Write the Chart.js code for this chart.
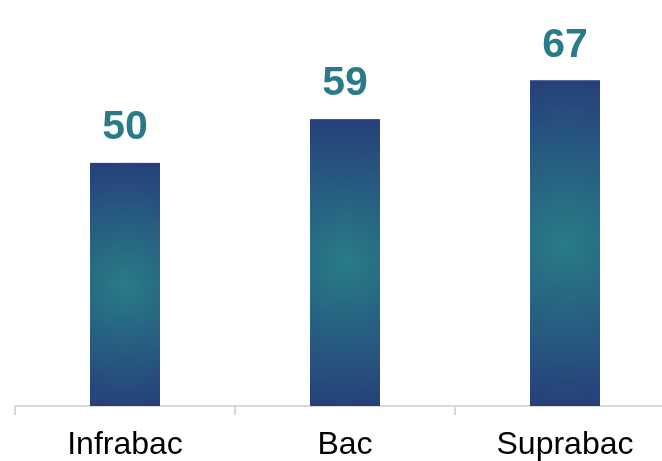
<!DOCTYPE html>
<html>
<head>
<meta charset="utf-8">
<script src="https://cdn.jsdelivr.net/npm/chart.js@4/dist/chart.umd.min.js"></script>
<style>
  html, body { margin: 0; padding: 0; background: #fff; overflow: hidden; }
  #wrap { width: 676px; height: 461px; }
</style>
</head>
<body>
<div id="wrap"><canvas id="barChart" width="676" height="461"></canvas></div>
<script>
const categories = ['Infrabac', 'Bac', 'Suprabac'];
const values = [50, 59, 67];

const centerColor = '#287c87';
const edgeColor = '#263f7a';
const labelColor = '#2a7b8a';

// Fill each bar with a round radial gradient, then write the value above it
const barGradientPlugin = {
  id: 'barGradient',
  afterDatasetsDraw(chart) {
    const ctx = chart.ctx;
    const meta = chart.getDatasetMeta(0);
    meta.data.forEach((bar, i) => {
      const left = bar.x - bar.width / 2;
      const top = bar.y;
      const h = bar.base - bar.y;
      const w = bar.width;
      const cx = bar.x;
      const cy = top + h / 2;
      const r = Math.sqrt((w / 2) * (w / 2) + (h / 2) * (h / 2));

      const grad = ctx.createRadialGradient(cx, cy, 0, cx, cy, r);
      grad.addColorStop(0, centerColor);
      grad.addColorStop(1, edgeColor);
      ctx.save();
      ctx.fillStyle = grad;
      ctx.fillRect(left, top, w, h);
      ctx.restore();

      ctx.save();
      ctx.fillStyle = labelColor;
      ctx.font = 'bold 41px "Liberation Sans", Arial, sans-serif';
      ctx.textAlign = 'center';
      ctx.textBaseline = 'middle';
      ctx.fillText(String(values[i]), cx, top - 35);
      ctx.restore();
    });
  }
};

new Chart(document.getElementById('barChart'), {
  type: 'bar',
  data: {
    labels: categories,
    datasets: [{
      data: values,
      backgroundColor: 'rgba(0,0,0,0)',
      borderWidth: 0,
      categoryPercentage: 1,
      barPercentage: 0.318
    }]
  },
  options: {
    responsive: false,
    animation: false,
    devicePixelRatio: 1,
    layout: {
      padding: { left: 15, right: 1, top: 0, bottom: -14 }
    },
    plugins: {
      legend: { display: false },
      tooltip: { enabled: false }
    },
    scales: {
      y: {
        display: false,
        min: 0,
        max: 83.5
      },
      x: {
        offset: true,
        grid: {
          display: true,
          offset: true,
          drawOnChartArea: false,
          drawTicks: true,
          tickLength: 9,
          color: '#d9d9d9',
          lineWidth: 2
        },
        border: { display: true, color: '#d9d9d9', width: 2 },
        ticks: {
          color: '#000',
          padding: 14,
          font: { family: '"Liberation Sans", Arial, sans-serif', size: 32, lineHeight: 1.0 }
        }
      }
    }
  },
  plugins: [barGradientPlugin]
});
</script>
</body>
</html>
